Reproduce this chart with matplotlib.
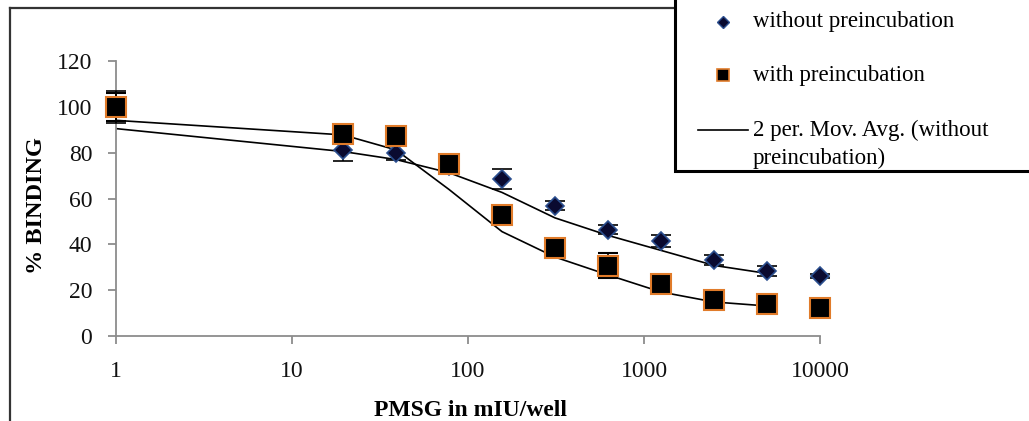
import numpy as np
import matplotlib.pyplot as plt
from matplotlib.lines import Line2D
from matplotlib.patches import Rectangle

plt.rcParams['font.family'] = ['Liberation Serif', 'DejaVu Serif']

# PMSG dose (mIU/well), doubling dilutions
dose = [1, 19.5, 39, 78, 156, 312, 625, 1250, 2500, 5000, 10000]

# % binding
without_pre = [100, 81, 80, 74, 68.5, 56.8, 46.3, 41.5, 33.2, 28.4, 26.2]
without_err = [7, 4.5, 3, 2, 4.5, 2, 2, 2.5, 2, 2, 1]
with_pre = [100, 88.2, 87.3, 75.1, 52.8, 38.3, 30.6, 22.7, 15.7, 14.0, 12.2]
with_err = [6, 4, 2, 2, 2, 2, 5.5, 2, 1.5, 1, 1]


# 2 period moving average, as Excel draws it (ends one point early)
def mov_avg(y):
    y = np.array(y)
    return (y[:-1] + y[1:]) / 2


fig = plt.figure(figsize=(10.29, 4.21), dpi=100)
ax = fig.add_axes([0.1127, 0.2019, 0.6842, 0.6532])

ax.plot(dose[:-1], mov_avg(without_pre), color='black', lw=1.2, zorder=2)
ax.plot(dose[:-1], mov_avg(with_pre), color='black', lw=1.2, zorder=2)

ax.errorbar(dose, without_pre, yerr=without_err, fmt='D', ms=9,
            mfc='#0a0a30', mec='#2b4f8f', mew=1.2, ecolor='black',
            elinewidth=1.2, capsize=7, capthick=1.5, clip_on=False, zorder=3)
ax.errorbar(dose, with_pre, yerr=with_err, fmt='s', ms=15,
            mfc='black', mec='#e07b2a', mew=1.5, ecolor='black',
            elinewidth=1.2, capsize=7, capthick=1.5, clip_on=False, zorder=4)

ax.set_xscale('log')
ax.set_xlim(1, 10000)
ax.set_ylim(0, 120)
ax.set_yticks(range(0, 121, 20))
ax.set_xticks([1, 10, 100, 1000, 10000])
ax.set_xticklabels(['1', '10', '100', '1000', '10000'])
ax.xaxis.set_minor_locator(plt.NullLocator())

for s in ['top', 'right']:
    ax.spines[s].set_visible(False)
for s in ['left', 'bottom']:
    ax.spines[s].set_color('#8c8c8c')
    ax.spines[s].set_linewidth(1.3)
ax.tick_params(axis='both', colors='#8c8c8c', length=6, width=1.3,
               labelsize=17, labelcolor='#111111')
ax.tick_params(axis='x', pad=12)
ax.tick_params(axis='y', pad=11)

ax.set_xlabel('PMSG in mIU/well', fontsize=17, fontweight='bold')
ax.set_ylabel('% BINDING', fontsize=17.5, fontweight='bold')
ax.xaxis.set_label_coords(0.503, -0.233)
ax.yaxis.set_label_coords(-0.098, 0.476)

# outer frame (only left and top visible in the crop)
fig.add_artist(Line2D([10 / 1029, 10 / 1029], [0, 1 - 8 / 421],
                      transform=fig.transFigure, color='#333333', lw=1.6))
fig.add_artist(Line2D([10 / 1029, 1], [1 - 8 / 421, 1 - 8 / 421],
                      transform=fig.transFigure, color='#333333', lw=1.6))

# legend box, cut off at the top and right
fig.add_artist(Rectangle((675 / 1029, 1 - 171 / 421), 0.5, 0.6,
                         transform=fig.transFigure, fill=True, fc='white',
                         ec='black', lw=2.2, zorder=5))


def fy(py):
    return 1 - py / 421


fig.add_artist(Line2D([723 / 1029], [fy(22)], marker='D', ms=6,
                      mfc='#0a0a30', mec='#2b4f8f', transform=fig.transFigure, zorder=6))
fig.text(753 / 1029, fy(22), 'without preincubation', fontsize=16.5,
         va='center', ha='left', zorder=6)
fig.add_artist(Line2D([723 / 1029], [fy(75)], marker='s', ms=9,
                      mfc='black', mec='#e07b2a', mew=1.2,
                      transform=fig.transFigure, zorder=6))
fig.text(753 / 1029, fy(75), 'with preincubation', fontsize=16.5,
         va='center', ha='left', zorder=6)
fig.add_artist(Line2D([698 / 1029, 748 / 1029], [fy(130), fy(130)],
                      color='black', lw=1.2, transform=fig.transFigure, zorder=6))
fig.text(753 / 1029, fy(130), '2 per. Mov. Avg. (without', fontsize=16.5,
         va='center', ha='left', zorder=6)
fig.text(753 / 1029, fy(158), 'preincubation)', fontsize=16.5,
         va='center', ha='left', zorder=6)

fig.savefig('out.png', dpi=100)
